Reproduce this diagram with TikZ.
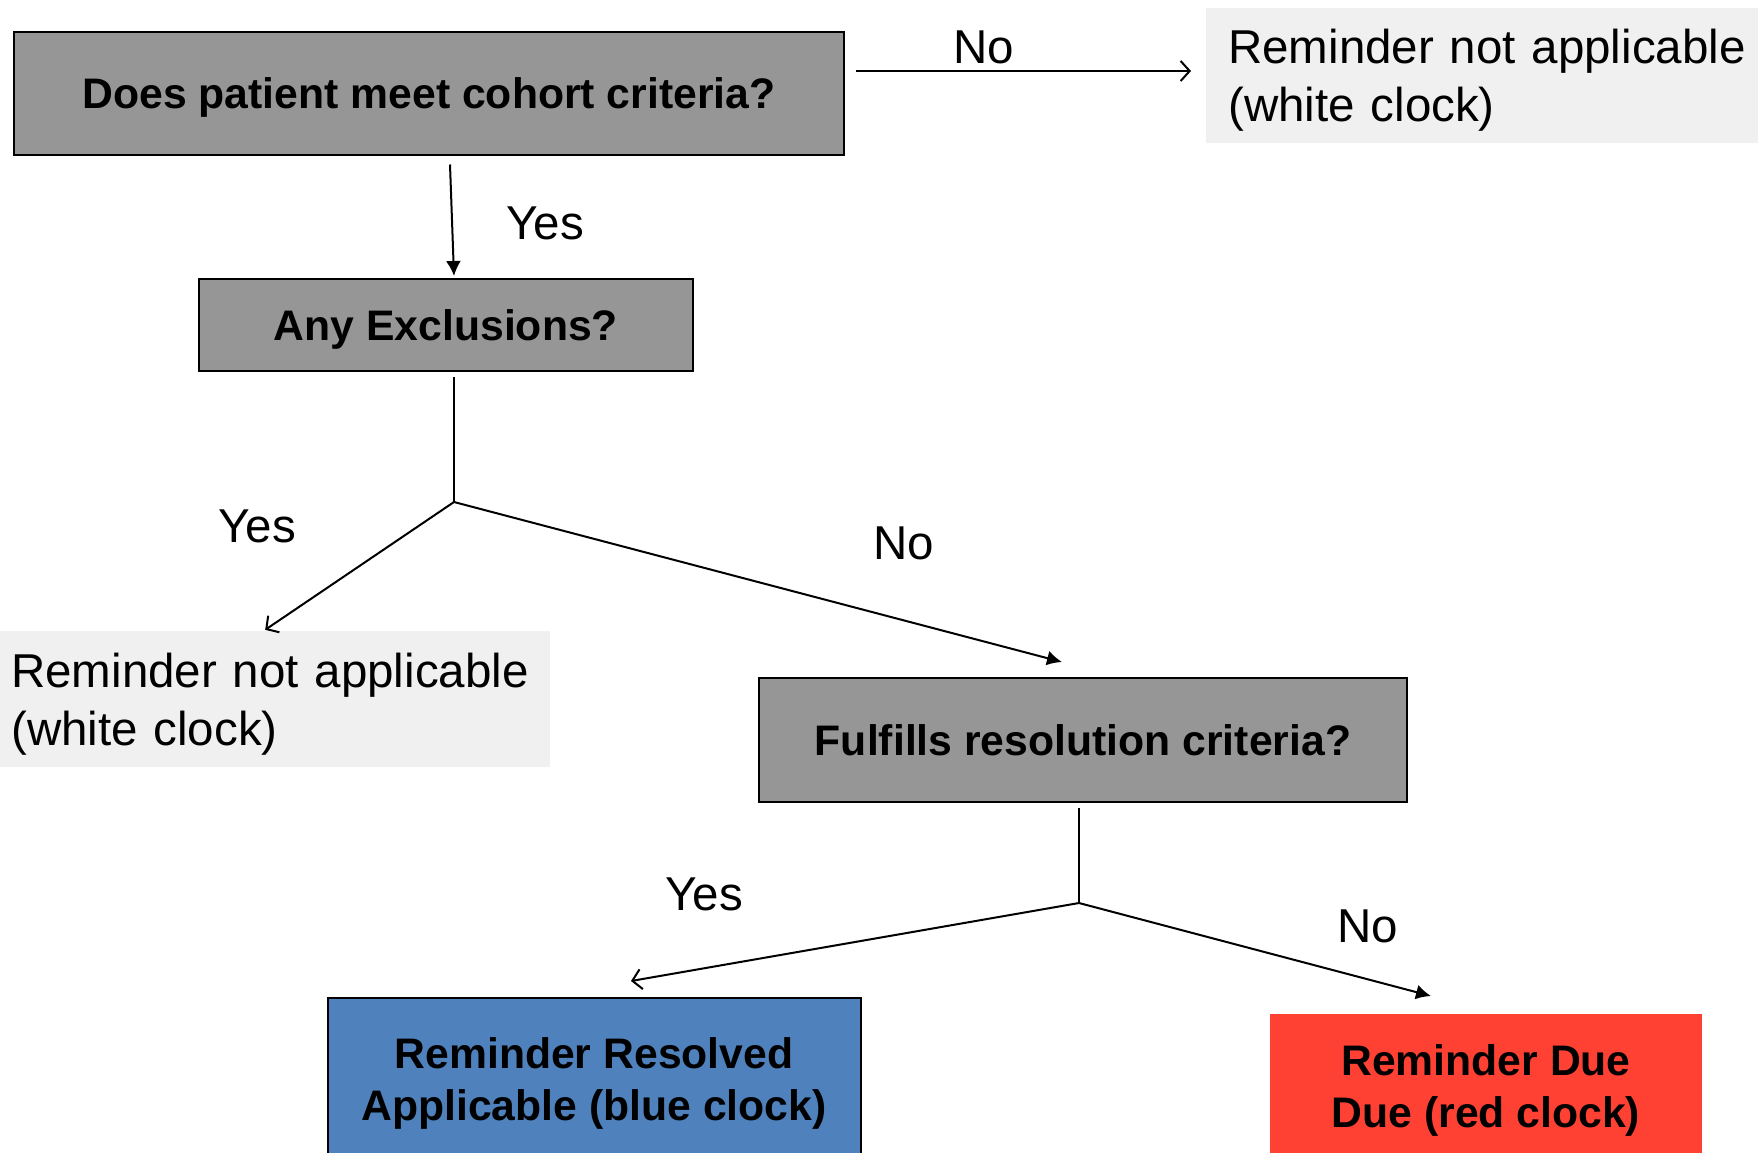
\documentclass[tikz,border=0pt]{standalone}
\usepackage{fontspec}
\setmainfont{Liberation Sans}
\usetikzlibrary{arrows.meta}

\definecolor{qgrey}{HTML}{969696}
\definecolor{nagrey}{HTML}{F0F0F0}
\definecolor{resblue}{HTML}{4F81BD}
\definecolor{duered}{HTML}{FF4133}

\newcommand{\boxfont}{\fontsize{42.7}{51.6}\selectfont\bfseries}
\newcommand{\labfont}{\fontsize{47.5}{58}\selectfont}

\tikzset{
  question/.style={draw=black, line width=2pt, fill=qgrey, font=\boxfont, align=center, inner sep=0pt, text depth=0pt},
  notappl/.style={fill=nagrey, font=\labfont, align=left, inner ysep=0pt, text depth=57pt},
  answer/.style={font=\labfont},
  filledarr/.style={line width=2pt, -{Latex[length=15pt,width=15pt]}},
  openarr/.style={line width=2pt, -{Straight Barb[length=9pt,width=20pt,line width=2pt]}},
  plainline/.style={line width=2pt}
}

\begin{document}
\begin{tikzpicture}[x=1pt,y=-1pt]
  \useasboundingbox (0,0) rectangle (1758,1152);

  % decision boxes
  \node[question, minimum width=830pt, minimum height=123pt] (cohort) at (429,93) {Does patient meet cohort criteria?};
  \node[question, minimum width=494pt, minimum height=92pt] (excl) at (446,325) {Any Exclusions?};
  \node[question, minimum width=648pt, minimum height=124pt] (resol) at (1083,740) {Fulfills resolution criteria?};

  % outcomes
  \node[notappl, text width=530pt, inner xsep=22pt, minimum height=135pt, anchor=west] (notA) at (1206,75) {Reminder not applicable\\(white clock)};
  \node[notappl, text width=528pt, inner xsep=11pt, minimum height=136pt, anchor=west] (notB) at (0,699) {Reminder not applicable\\(white clock)};
  \node[question, fill=resblue, minimum width=533pt, minimum height=162pt] (resolved) at (594,1079) {Reminder Resolved\\Applicable (blue clock)};
  \node[question, draw=none, fill=duered, minimum width=432pt, minimum height=144pt] (due) at (1486,1086) {Reminder Due\\Due (red clock)};

  % branch points
  \coordinate (splitA) at (454,502);
  \coordinate (splitB) at (1079,903);

  % connectors
  \draw[openarr] ([shift={(11,-22)}]cohort.east) -- ([shift={(-15,-4)}]notA.west);
  \draw[filledarr] ([shift={(21,9)}]cohort.south) -- ([shift={(8,-2)}]excl.north);
  \draw[plainline] ([shift={(8,5)}]excl.south) -- (splitA);
  \draw[openarr] (splitA) -- ([shift={(-10,-1)}]notB.north);
  \draw[filledarr] (splitA) -- ([shift={(-21,-15)}]resol.north);
  \draw[plainline] ([shift={(-4,5)}]resol.south) -- (splitB);
  \draw[openarr] (splitB) -- ([shift={(37,-16)}]resolved.north);
  \draw[filledarr] (splitB) -- ([shift={(-55,-17)}]due.north);

  % labels
  \node[answer] (noA) at (984,47) {No};
  \node[answer] (yesA) at (545,223) {Yes};
  \node[answer] (yesB) at (257,526) {Yes};
  \node[answer] (noB) at (904,543) {No};
  \node[answer] (yesC) at (704,894) {Yes};
  \node[answer] (noC) at (1368,926) {No};
\end{tikzpicture}
\end{document}
